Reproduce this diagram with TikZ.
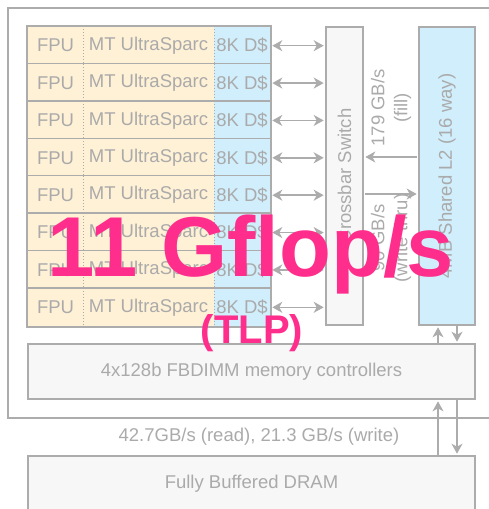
\documentclass[tikz,border=0pt]{standalone}
\usepackage{fontspec}
\usepackage{graphicx}
\setmainfont{Liberation Sans}
\usetikzlibrary{arrows.meta}
\definecolor{linegray}{RGB}{172,172,172}
\definecolor{txtgray}{RGB}{170,170,170}
\definecolor{corefill}{RGB}{255,241,214}
\definecolor{cachefill}{RGB}{208,238,251}
\definecolor{boxfill}{RGB}{247,247,247}
\definecolor{flopc}{RGB}{255,45,140}
\tikzset{every picture/.style={line width=1.6pt}}

\begin{document}
\begin{tikzpicture}[x=1pt, y=-1pt, >={Stealth[length=10pt,width=11pt,inset=3pt]},
        every node/.style={font=\fontsize{18.5}{23}\selectfont, text=txtgray, inner sep=0pt},
        cell/.style={rectangle, minimum height=37.4pt},
        blk/.style={rectangle, draw=linegray, fill=boxfill},
        link/.style={draw=linegray, shorten <=1.5pt, shorten >=1.5pt}]
        \useasboundingbox (0,0) rectangle (489,509);
        \clip (0,0) rectangle (489,509);
        % chip outline
        \draw[draw=linegray] (8,8) rectangle (505,418);
        % crossbar and L2
        \node[blk, minimum width=37pt, minimum height=298pt] (xbar) at (344.5,176) {\rotatebox{90}{Crossbar Switch}};
        \node[blk, fill=cachefill, minimum width=56pt, minimum height=298pt] (l2) at (447,176) {\rotatebox{90}{4MB Shared L2 (16 way)}};
        % eight cores
        \foreach \i in {1,...,8}{
            \pgfmathsetmacro\yy{27+(\i-0.5)*37.375}
            \node[cell, fill=corefill, minimum width=55pt]  (fpu\i) at (55.5,\yy)  {FPU};
            \node[cell, fill=corefill, minimum width=131pt] (mt\i)  at (148.5,\yy) {MT UltraSparc};
            \node[cell, fill=cachefill, minimum width=56pt] (dc\i)  at (242,\yy)   {8K D\$};
            \draw[draw=linegray, dotted, line width=1pt] (fpu\i.north east) -- (fpu\i.south east);
            \draw[draw=linegray, dotted, line width=1pt] (mt\i.north east) -- (mt\i.south east);
            \draw[draw=linegray] (fpu\i.north west) rectangle (dc\i.south east);
            \draw[link, <->] (dc\i.east) -- (dc\i.east -| xbar.west);
        }
        % fill / write thru
        \draw[link, ->] ([yshift=19pt]l2.west) -- ([yshift=19pt]xbar.east);
        \draw[link, ->] ([yshift=-18pt]xbar.east) -- ([yshift=-18pt]l2.west);
        \node[rotate=90, align=center] (fillbw)  at (391,108) {179 GB/s\\(fill)};
        \node[rotate=90, align=center] (writebw) at (391,238) {90 GB/s\\(write thru)};
        % memory side
        \node[blk, minimum width=447pt, minimum height=55pt] (mc)   at (251.5,371.5) {4x128b FBDIMM memory controllers};
        \node[blk, minimum width=447pt, minimum height=56pt] (dram) at (251.5,484)   {Fully Buffered DRAM};
        \node (rdwr) at (259,437) {42.7GB/s (read), 21.3 GB/s (write)};
        \coordinate (upx) at ([xshift=-9pt]l2.south);
        \coordinate (dnx) at ([xshift=10pt]l2.south);
        \draw[link, ->, shorten <=0pt] (upx |- mc.north) -- (upx);
        \draw[link, ->, shorten <=0pt] (dnx) -- (dnx |- mc.north);
        \draw[link, ->, shorten <=0pt] (upx |- dram.north) -- (upx |- mc.south);
        \draw[link, ->, shorten <=0pt] (dnx |- mc.south) -- (dnx |- dram.north);
        % peak rate
        \node[anchor=base, text=flopc, font=\fontsize{85}{85}\selectfont\bfseries] (gflops) at (251,276) {11 Gflop/s};
        \node[anchor=base, text=flopc, font=\fontsize{40}{40}\selectfont\bfseries] (tlp) at (252,343) {(TLP)};
    \end{tikzpicture}
\end{document}
